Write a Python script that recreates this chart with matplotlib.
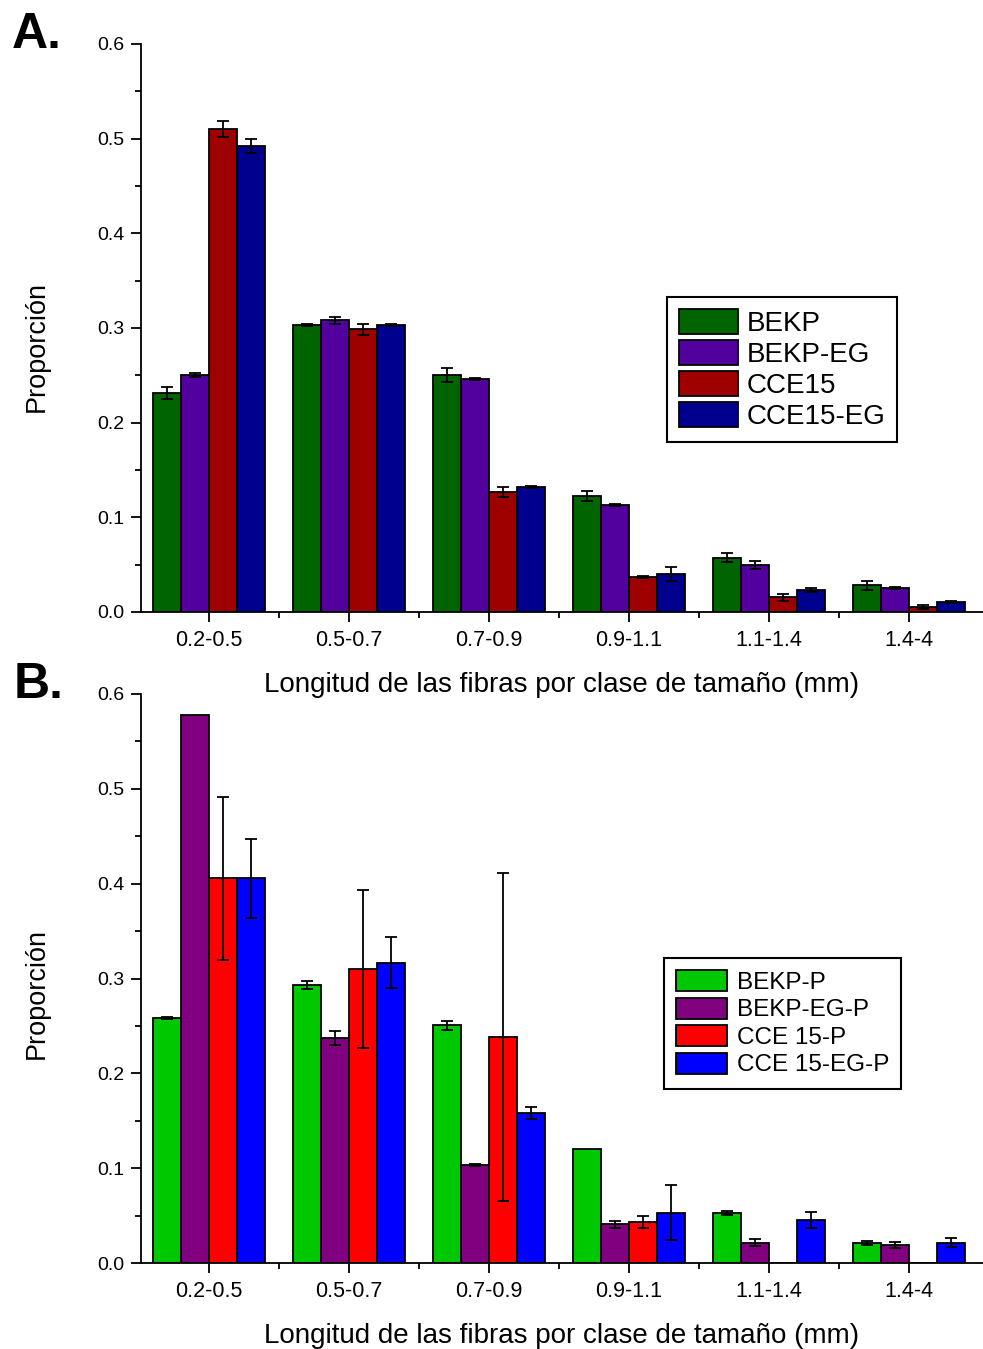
import numpy as np
import matplotlib
matplotlib.use("Agg")
import matplotlib.pyplot as plt
from matplotlib.ticker import MultipleLocator, FixedLocator

plt.rcParams['font.family'] = ['Liberation Sans', 'DejaVu Sans']

categories = ["0.2-0.5", "0.5-0.7", "0.7-0.9", "0.9-1.1", "1.1-1.4", "1.4-4"]

# Panel A
series_a = ["BEKP", "BEKP-EG", "CCE15", "CCE15-EG"]
bekp = [0.231, 0.303, 0.250, 0.1225, 0.0574, 0.0282]
bekp_eg = [0.250, 0.308, 0.2457, 0.113, 0.0496, 0.0257]
cce15 = [0.510, 0.2985, 0.127, 0.0373, 0.0155, 0.0056]
cce15_eg = [0.492, 0.303, 0.1317, 0.040, 0.0232, 0.0109]
bekp_err = [0.0065, 0.001, 0.0074, 0.005, 0.005, 0.005]
bekp_eg_err = [0.002, 0.004, 0.001, 0.001, 0.004, 0.001]
cce15_err = [0.0085, 0.006, 0.005, 0.001, 0.004, 0.002]
cce15_eg_err = [0.0075, 0.001, 0.001, 0.0074, 0.002, 0.001]
colors_a = ["#006400", "#52009E", "#9E0000", "#00008E"]

# Panel B
series_b = ["BEKP-P", "BEKP-EG-P", "CCE 15-P", "CCE 15-EG-P"]
bekp_p = [0.258, 0.293, 0.2507, 0.1206, 0.0527, 0.0211]
bekp_eg_p = [0.578, 0.237, 0.1037, 0.0408, 0.0214, 0.019]
cce15_p = [0.4055, 0.310, 0.2387, 0.0432, 0.0, 0.0]
cce15_eg_p = [0.4055, 0.3165, 0.158, 0.0531, 0.0457, 0.0214]
bekp_p_err = [0.001, 0.004, 0.005, 0.0, 0.002, 0.002]
bekp_eg_p_err = [0.0, 0.0076, 0.001, 0.004, 0.004, 0.003]
cce15_p_err = [0.086, 0.083, 0.173, 0.0065, 0.0, 0.0]
cce15_eg_p_err = [0.042, 0.027, 0.006, 0.029, 0.0083, 0.005]
colors_b = ["#00C800", "#800080", "#FF0000", "#0000FF"]

W, H = 983, 1349
fig = plt.figure(figsize=(W / 100, H / 100), dpi=100)

left_px, right_px = 141, 983
x0 = np.arange(len(categories))
bw = 0.2
offsets = [-0.3, -0.1, 0.1, 0.3]


def draw(ax, vals, errs, colors, labels, legend_kw):
    ax.patch.set_alpha(0)
    for v, e, c, lab, off in zip(vals, errs, colors, labels, offsets):
        v = np.asarray(v, float)
        e = np.asarray(e, float)
        ax.bar(x0 + off, v, width=bw, color=c, edgecolor="black",
               linewidth=1.3, label=lab, zorder=2)
        m = e > 0
        ax.errorbar((x0 + off)[m], v[m], yerr=e[m], fmt="none",
                    ecolor="black", elinewidth=1.3, capsize=4.5,
                    capthick=1.3, zorder=3)
    ax.set_xlim(-0.486, 5.529)
    ax.set_ylim(0, 0.6)
    ax.yaxis.set_minor_locator(MultipleLocator(0.05))
    ax.set_yticks(np.arange(0, 0.61, 0.1))
    ax.set_yticklabels([f"{t:.1f}" for t in np.arange(0, 0.61, 0.1)])
    ax.set_xticks(x0)
    ax.set_xticklabels(categories)
    ax.xaxis.set_minor_locator(FixedLocator(x0[:-1] + 0.5))
    for s in ["top", "right"]:
        ax.spines[s].set_visible(False)
    for s in ["left", "bottom"]:
        ax.spines[s].set_linewidth(1.3)
    ax.tick_params(axis="both", which="major", direction="out", length=7,
                   width=1.3)
    ax.tick_params(axis="both", which="minor", direction="out", length=4,
                   width=1.3)
    ax.tick_params(axis="y", labelsize=14, pad=5)
    ax.tick_params(axis="x", labelsize=15.5, pad=6)
    ax.set_xlabel("Longitud de las fibras por clase de tamaño (mm)",
                  fontsize=20, labelpad=15)
    ax.set_ylabel("Proporción", fontsize=19.5)
    leg = ax.legend(**legend_kw)
    leg.get_frame().set_edgecolor("black")
    leg.get_frame().set_linewidth(1.5)
    return ax


axA = fig.add_axes([left_px / W, 1 - 612 / H, (right_px - left_px) / W, 568 / H])
draw(axA, [bekp, bekp_eg, cce15, cce15_eg],
     [bekp_err, bekp_eg_err, cce15_err, cce15_eg_err], colors_a, series_a,
     dict(loc="upper left", bbox_to_anchor=((667 - left_px) / (right_px - left_px),
                                            (612 - 297) / 568),
          fontsize=20, fancybox=False, framealpha=1, handlelength=2.15,
          handleheight=1.0, labelspacing=0.12, handletextpad=0.3,
          borderpad=0.42, borderaxespad=0))
axA.yaxis.set_label_coords(-0.108, 0.468)

axB = fig.add_axes([left_px / W, 1 - 1263 / H, (right_px - left_px) / W, 569 / H])
draw(axB, [bekp_p, bekp_eg_p, cce15_p, cce15_eg_p],
     [bekp_p_err, bekp_eg_p_err, cce15_p_err, cce15_eg_p_err], colors_b, series_b,
     dict(loc="upper left", bbox_to_anchor=((664 - left_px) / (right_px - left_px),
                                            (1263 - 958) / 569),
          fontsize=17.5, fancybox=False, framealpha=1, handlelength=2.1,
          handleheight=0.95, labelspacing=0.15, handletextpad=0.4,
          borderpad=0.5, borderaxespad=0))
axB.yaxis.set_label_coords(-0.108, 0.473)

fig.text(12 / W, 1 - 48 / H, "A.", fontsize=36, fontweight="bold",
         ha="left", va="baseline")
fig.text(14 / W, 1 - 698 / H, "B.", fontsize=36, fontweight="bold",
         ha="left", va="baseline")

fig.savefig("out.png", dpi=100)
